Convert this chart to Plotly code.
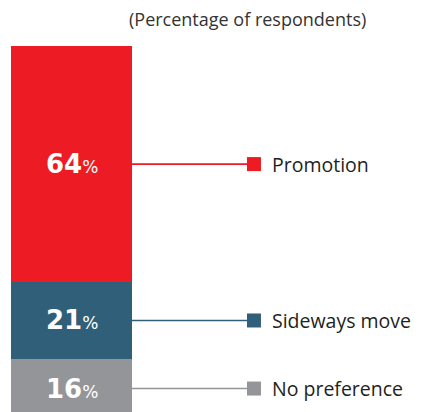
import plotly.graph_objects as go

categories = ["No preference", "Sideways move", "Promotion"]
values = [16, 21, 64]
colors = ["#939598", "#306079", "#ED1C24"]
title_text = "(Percentage of respondents)"

# page body has an 8px margin; figure is sized to the remaining window
OFF = 8
W, H = 421 - OFF, 412 - OFF
fig = go.Figure()

base = 0
centers = []
for cat, v, c in zip(categories, values, colors):
    fig.add_trace(go.Bar(x=[0], y=[v], base=[base], width=[1], marker=dict(color=c, line=dict(width=0)),
                         name=cat, showlegend=False, hoverinfo="skip"))
    centers.append(base + v / 2)
    base += v

ppx = 121.0
x0 = -0.5 - (11 - OFF) / ppx
marker_x = 1.508
for cat, v, c, yc in zip(categories, values, colors, centers):
    fig.add_trace(go.Scatter(x=[0.5, marker_x], y=[yc, yc], mode="lines",
                             line=dict(color=c, width=1.6), showlegend=False, hoverinfo="skip"))
    fig.add_trace(go.Scatter(x=[marker_x], y=[yc], mode="markers",
                             marker=dict(symbol="square", size=14, color=c), showlegend=False, hoverinfo="skip"))
    fig.add_annotation(x=1.642, y=yc, text=cat, showarrow=False, xanchor="left", yanchor="middle",
                       font=dict(family="Open Sans", size=19.5, color="#231F20"))
    fig.add_annotation(x=0, y=yc, showarrow=False, xanchor="center", yanchor="middle",
                       text=f"<b>{v}</b><span style='font-size:17px'>%</span>",
                       font=dict(family="DejaVu Sans", size=26, color="white"))

fig.add_annotation(x=(247 - OFF) / W, y=1 - (19 - OFF) / H, xref="paper", yref="paper", text=title_text,
                   showarrow=False, xanchor="center", yanchor="middle",
                   font=dict(family="Open Sans", size=18, color="#333333"))

ppu = 3.68
ybot = 418 - OFF
fig.update_layout(
    width=W, height=H, margin=dict(l=0, r=0, t=0, b=0),
    paper_bgcolor="white", plot_bgcolor="white",
    barmode="overlay", bargap=0,
    xaxis=dict(range=[x0, x0 + W / ppx], visible=False, fixedrange=True),
    yaxis=dict(range=[(ybot - H) / ppu, ybot / ppu], visible=False, fixedrange=True),
)
fig.write_html("out.html", config={"displayModeBar": False})
